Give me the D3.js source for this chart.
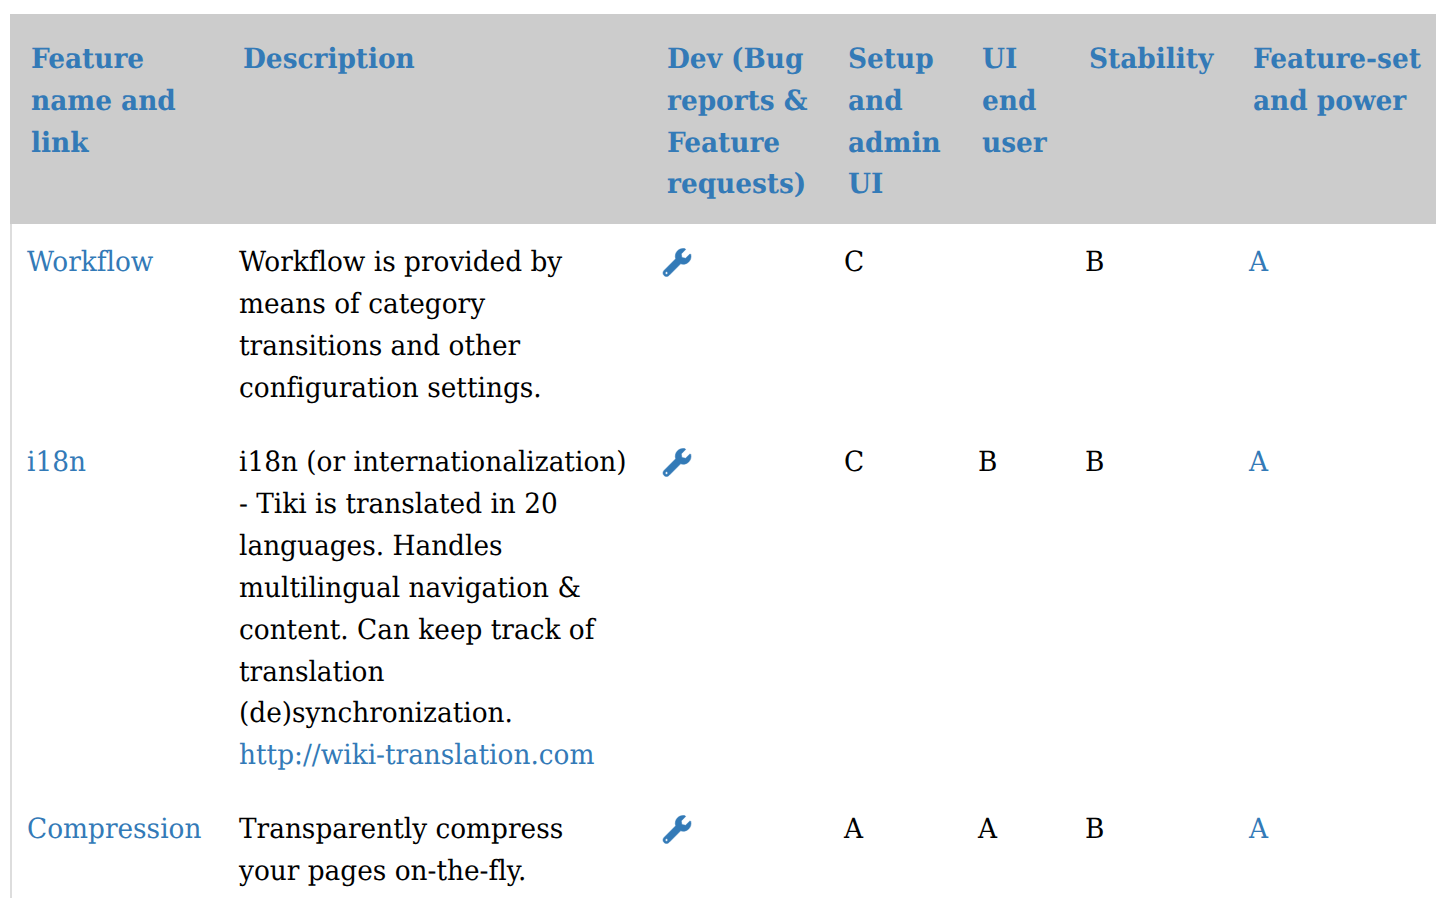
<!DOCTYPE html>
<meta charset="utf-8">
<style>
html, body { margin: 0; padding: 0; background: #fff; overflow: hidden; }
text { font-family: "DejaVu Serif", serif; font-size: 27.9px; white-space: pre; text-rendering: geometricPrecision; font-variant-ligatures: none; }
.head { font-weight: bold; fill: #337ab7; }
.cell { fill: #000; }
.link { fill: #337ab7; }
</style>
<body>
<script src="https://d3js.org/d3.v7.min.js"></script>
<script>
// table content
var columns = ["name", "desc", "dev", "setup", "ui", "stability", "power"];
var headers = [
  ["Feature", "name and", "link"],
  ["Description"],
  ["Dev (Bug", "reports &", "Feature", "requests)"],
  ["Setup", "and", "admin", "UI"],
  ["UI", "end", "user"],
  ["Stability"],
  ["Feature-set", "and power"]
];
var names = ["Workflow", "i18n", "Compression"];
var descriptions = [
  ["Workflow is provided by", "means of category", "transitions and other", "configuration settings."],
  ["i18n (or internationalization)", "- Tiki is translated in 20", "languages. Handles", "multilingual navigation &", "content. Can keep track of", "translation", "(de)synchronization."],
  ["Transparently compress", "your pages on-the-fly."]
];
var descLinks = [null, "http://wiki-translation.com", null];
var setupGrades = ["C", "C", "A"];
var uiGrades = ["", "B", "A"];
var stabilityGrades = ["B", "B", "B"];
var powerGrades = ["A", "A", "A"];

// layout
var width = 1436, height = 898;
var cellX = [27, 239, 663, 844, 978, 1085, 1249];
var rowBaseline = [271, 471, 838];
var headBaseline = 68.4;
var headLineHeight = 41.6;
var lineHeight = 41.9;
var squeeze = 0.945; // text in the picture is narrower than the plain font
var x = d3.scaleOrdinal().domain(columns).range(cellX);
var wrench = "M507.73 109.1c-2.24-9.03-13.54-12.09-20.12-5.51l-74.36 74.36-67.88-11.31-11.31-67.88 74.36-74.36c6.62-6.62 3.43-17.9-5.66-20.16-47.38-11.74-99.55.91-136.58 37.93-39.64 39.64-50.55 97.1-34.05 147.2L18.74 402.76c-24.99 24.99-24.99 65.51 0 90.5 24.99 24.99 65.51 24.99 90.5 0l213.21-213.21c50.12 16.71 107.47 5.68 147.37-34.22 37.07-37.07 49.7-89.32 37.91-136.73zM64 472c-13.25 0-24-10.75-24-24 0-13.26 10.75-24 24-24s24 10.74 24 24c0 13.25-10.75 24-24 24z";

function place(px, py) {
  return "translate(" + px + "," + py + ") scale(" + squeeze + ",1)";
}

var svg = d3.select("body").append("svg")
    .attr("width", width)
    .attr("height", height)
    .style("display", "block");

// left border and header band
svg.append("rect").attr("x", 10).attr("y", 224).attr("width", 2).attr("height", height - 224).attr("fill", "#ddd");
svg.append("rect").attr("x", 10).attr("y", 14).attr("width", width - 10).attr("height", 210).attr("fill", "#ccc");

// header labels
columns.forEach(function(c, i) {
  svg.selectAll(".h" + i).data(headers[i]).enter().append("text")
      .attr("class", "head h" + i)
      .attr("transform", function(d, j) { return place(x(c) + 4, headBaseline + j * headLineHeight); })
      .text(function(d) { return d; });
});

// body rows
names.forEach(function(name, r) {
  var y0 = rowBaseline[r];

  svg.append("text").attr("class", "link").attr("transform", place(x("name"), y0)).text(name);

  var lines = descriptions[r].map(function(t) { return {t: t, cls: "cell"}; });
  if (descLinks[r]) lines.push({t: descLinks[r], cls: "link"});
  svg.append("g").selectAll("text").data(lines).enter().append("text")
      .attr("class", function(d) { return d.cls; })
      .attr("transform", function(d, j) { return place(x("desc"), y0 + j * lineHeight); })
      .text(function(d) { return d.t; });

  svg.append("path")
      .attr("d", wrench)
      .attr("fill", "#337ab7")
      .attr("stroke", "#337ab7")
      .attr("stroke-width", 10)
      .attr("transform", "translate(" + x("dev") + "," + (y0 - 22.5) + ") scale(0.0547)");

  svg.append("text").attr("class", "cell").attr("transform", place(x("setup"), y0)).text(setupGrades[r]);
  svg.append("text").attr("class", "cell").attr("transform", place(x("ui"), y0)).text(uiGrades[r]);
  svg.append("text").attr("class", "cell").attr("transform", place(x("stability"), y0)).text(stabilityGrades[r]);
  svg.append("text").attr("class", "link").attr("transform", place(x("power"), y0)).text(powerGrades[r]);
});
</script>
</body>
